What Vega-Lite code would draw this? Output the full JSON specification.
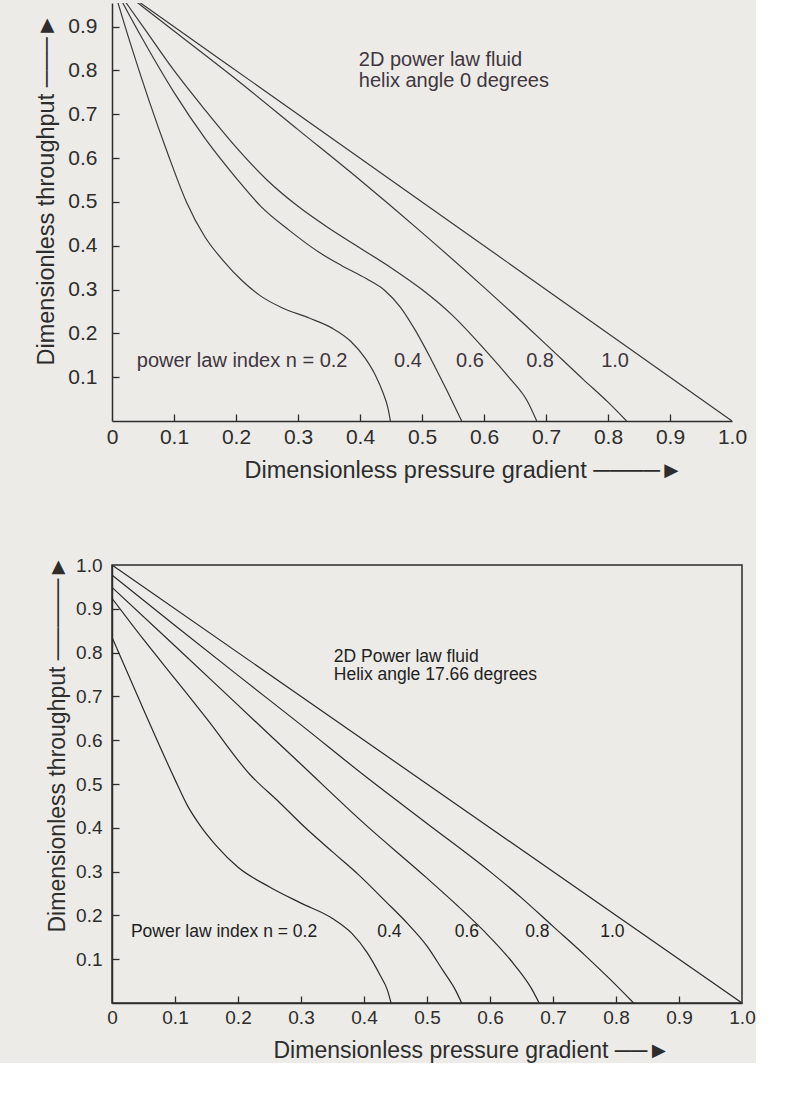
{
  "$schema": "https://vega.github.io/schema/vega-lite/v6.json",
  "background": "#ecebe7",
  "padding": {"left": 33, "top": 0, "right": 0, "bottom": 0},
  "spacing": 72,
  "config": {
    "view": {"stroke": null},
    "axis": {"grid": false, "domainColor": "#2d2d2d", "domainWidth": 1.5, "tickColor": "#2d2d2d", "tickWidth": 1.3, "labelColor": "#2d2d2d", "titleColor": "#2d2d2d", "labelFont": "Liberation Sans", "titleFont": "Liberation Sans", "titleFontWeight": "normal", "labelFlush": false, "labelOverlap": false}
  },
  "datasets": {
    "top": [
      {"n": "1.0", "x": 0, "y": 1}, {"n": "1.0", "x": 0.5, "y": 0.5}, {"n": "1.0", "x": 1, "y": 0},
      {"n": "0.8", "x": 0, "y": 1}, {"n": "0.8", "x": 0.1, "y": 0.89}, {"n": "0.8", "x": 0.2, "y": 0.78}, {"n": "0.8", "x": 0.3, "y": 0.665}, {"n": "0.8", "x": 0.4, "y": 0.55}, {"n": "0.8", "x": 0.5, "y": 0.43}, {"n": "0.8", "x": 0.6, "y": 0.305}, {"n": "0.8", "x": 0.7, "y": 0.175}, {"n": "0.8", "x": 0.76, "y": 0.095}, {"n": "0.8", "x": 0.8, "y": 0.043}, {"n": "0.8", "x": 0.83, "y": 0},
      {"n": "0.6", "x": 0, "y": 1}, {"n": "0.6", "x": 0.05, "y": 0.9}, {"n": "0.6", "x": 0.1, "y": 0.8}, {"n": "0.6", "x": 0.15, "y": 0.71}, {"n": "0.6", "x": 0.2, "y": 0.625}, {"n": "0.6", "x": 0.25, "y": 0.55}, {"n": "0.6", "x": 0.3, "y": 0.49}, {"n": "0.6", "x": 0.35, "y": 0.44}, {"n": "0.6", "x": 0.4, "y": 0.395}, {"n": "0.6", "x": 0.45, "y": 0.35}, {"n": "0.6", "x": 0.5, "y": 0.3}, {"n": "0.6", "x": 0.55, "y": 0.24}, {"n": "0.6", "x": 0.6, "y": 0.165}, {"n": "0.6", "x": 0.64, "y": 0.1}, {"n": "0.6", "x": 0.67, "y": 0.045}, {"n": "0.6", "x": 0.685, "y": 0},
      {"n": "0.4", "x": 0, "y": 1}, {"n": "0.4", "x": 0.05, "y": 0.87}, {"n": "0.4", "x": 0.1, "y": 0.75}, {"n": "0.4", "x": 0.15, "y": 0.645}, {"n": "0.4", "x": 0.2, "y": 0.555}, {"n": "0.4", "x": 0.24, "y": 0.49}, {"n": "0.4", "x": 0.286, "y": 0.435}, {"n": "0.4", "x": 0.334, "y": 0.385}, {"n": "0.4", "x": 0.37, "y": 0.355}, {"n": "0.4", "x": 0.41, "y": 0.325}, {"n": "0.4", "x": 0.44, "y": 0.298}, {"n": "0.4", "x": 0.465, "y": 0.26}, {"n": "0.4", "x": 0.49, "y": 0.205}, {"n": "0.4", "x": 0.515, "y": 0.14}, {"n": "0.4", "x": 0.54, "y": 0.07}, {"n": "0.4", "x": 0.564, "y": 0},
      {"n": "0.2", "x": 0, "y": 1}, {"n": "0.2", "x": 0.03, "y": 0.86}, {"n": "0.2", "x": 0.06, "y": 0.73}, {"n": "0.2", "x": 0.09, "y": 0.61}, {"n": "0.2", "x": 0.12, "y": 0.5}, {"n": "0.2", "x": 0.15, "y": 0.42}, {"n": "0.2", "x": 0.18, "y": 0.365}, {"n": "0.2", "x": 0.21, "y": 0.32}, {"n": "0.2", "x": 0.24, "y": 0.285}, {"n": "0.2", "x": 0.275, "y": 0.258}, {"n": "0.2", "x": 0.318, "y": 0.235}, {"n": "0.2", "x": 0.355, "y": 0.212}, {"n": "0.2", "x": 0.385, "y": 0.182}, {"n": "0.2", "x": 0.408, "y": 0.144}, {"n": "0.2", "x": 0.425, "y": 0.104}, {"n": "0.2", "x": 0.437, "y": 0.065}, {"n": "0.2", "x": 0.445, "y": 0.03}, {"n": "0.2", "x": 0.449, "y": 0}
    ],
    "bottom": [
      {"n": "1.0", "x": 0, "y": 1}, {"n": "1.0", "x": 0.5, "y": 0.5}, {"n": "1.0", "x": 1, "y": 0},
      {"n": "0.8", "x": 0, "y": 0.977}, {"n": "0.8", "x": 0.1, "y": 0.862}, {"n": "0.8", "x": 0.2, "y": 0.748}, {"n": "0.8", "x": 0.3, "y": 0.635}, {"n": "0.8", "x": 0.4, "y": 0.52}, {"n": "0.8", "x": 0.5, "y": 0.41}, {"n": "0.8", "x": 0.6, "y": 0.3}, {"n": "0.8", "x": 0.65, "y": 0.24}, {"n": "0.8", "x": 0.7, "y": 0.175}, {"n": "0.8", "x": 0.75, "y": 0.11}, {"n": "0.8", "x": 0.79, "y": 0.055}, {"n": "0.8", "x": 0.828, "y": 0},
      {"n": "0.6", "x": 0, "y": 0.949}, {"n": "0.6", "x": 0.1, "y": 0.815}, {"n": "0.6", "x": 0.2, "y": 0.68}, {"n": "0.6", "x": 0.3, "y": 0.545}, {"n": "0.6", "x": 0.4, "y": 0.41}, {"n": "0.6", "x": 0.5, "y": 0.285}, {"n": "0.6", "x": 0.55, "y": 0.22}, {"n": "0.6", "x": 0.6, "y": 0.15}, {"n": "0.6", "x": 0.64, "y": 0.085}, {"n": "0.6", "x": 0.665, "y": 0.035}, {"n": "0.6", "x": 0.678, "y": 0},
      {"n": "0.4", "x": 0, "y": 0.924}, {"n": "0.4", "x": 0.05, "y": 0.83}, {"n": "0.4", "x": 0.1, "y": 0.74}, {"n": "0.4", "x": 0.15, "y": 0.65}, {"n": "0.4", "x": 0.22, "y": 0.52}, {"n": "0.4", "x": 0.265, "y": 0.459}, {"n": "0.4", "x": 0.307, "y": 0.4}, {"n": "0.4", "x": 0.35, "y": 0.345}, {"n": "0.4", "x": 0.392, "y": 0.292}, {"n": "0.4", "x": 0.435, "y": 0.231}, {"n": "0.4", "x": 0.47, "y": 0.18}, {"n": "0.4", "x": 0.5, "y": 0.13}, {"n": "0.4", "x": 0.525, "y": 0.075}, {"n": "0.4", "x": 0.545, "y": 0.03}, {"n": "0.4", "x": 0.555, "y": 0},
      {"n": "0.2", "x": 0, "y": 0.835}, {"n": "0.2", "x": 0.05, "y": 0.67}, {"n": "0.2", "x": 0.1, "y": 0.51}, {"n": "0.2", "x": 0.12, "y": 0.45}, {"n": "0.2", "x": 0.14, "y": 0.405}, {"n": "0.2", "x": 0.165, "y": 0.36}, {"n": "0.2", "x": 0.2, "y": 0.31}, {"n": "0.2", "x": 0.25, "y": 0.265}, {"n": "0.2", "x": 0.3, "y": 0.228}, {"n": "0.2", "x": 0.35, "y": 0.193}, {"n": "0.2", "x": 0.38, "y": 0.16}, {"n": "0.2", "x": 0.405, "y": 0.115}, {"n": "0.2", "x": 0.425, "y": 0.065}, {"n": "0.2", "x": 0.437, "y": 0.03}, {"n": "0.2", "x": 0.443, "y": 0}
    ],
    "topText": [
      {"x": 0.398, "y": 0.81, "label": "2D power law fluid"},
      {"x": 0.398, "y": 0.763, "label": "helix angle 0 degrees"},
      {"x": 0.04, "y": 0.123, "label": "power law index n = 0.2"},
      {"x": 0.455, "y": 0.123, "label": "0.4"},
      {"x": 0.555, "y": 0.123, "label": "0.6"},
      {"x": 0.668, "y": 0.123, "label": "0.8"},
      {"x": 0.789, "y": 0.123, "label": "1.0"}
    ],
    "bottomText": [
      {"x": 0.352, "y": 0.778, "label": "2D Power law fluid"},
      {"x": 0.352, "y": 0.737, "label": "Helix angle 17.66 degrees"},
      {"x": 0.03, "y": 0.15, "label": "Power law index n = 0.2"},
      {"x": 0.421, "y": 0.15, "label": "0.4"},
      {"x": 0.544, "y": 0.15, "label": "0.6"},
      {"x": 0.656, "y": 0.15, "label": "0.8"},
      {"x": 0.775, "y": 0.15, "label": "1.0"}
    ]
  },
  "vconcat": [
    {
      "width": 620,
      "height": 418,
      "view": {"stroke": null},
      "resolve": {"axis": {"x": "independent", "y": "independent"}},
      "layer": [
        {
          "data": {"name": "top"},
          "mark": {"type": "line", "clip": true, "color": "#3a3a3a", "strokeWidth": 1.2, "interpolate": "monotone"},
          "encoding": {
            "x": {"field": "x", "type": "quantitative", "scale": {"domain": [0, 1], "nice": false},
              "axis": {"orient": "bottom", "values": [0, 0.1, 0.2, 0.3, 0.4, 0.5, 0.6, 0.7, 0.8, 0.9, 1], "labelExpr": "datum.value == 0 ? '0' : format(datum.value, '.1f')", "ticks": false, "labelPadding": 5, "labelFontSize": 21, "title": "Dimensionless pressure gradient   ────►", "titleFontSize": 23.5, "titleX": 132, "titleY": 49, "titleAlign": "left", "titleBaseline": "middle"}},
            "y": {"field": "y", "type": "quantitative", "scale": {"domain": [0, 0.954], "nice": false},
              "axis": {"orient": "left", "values": [0.1, 0.2, 0.3, 0.4, 0.5, 0.6, 0.7, 0.8, 0.9], "labelExpr": "format(datum.value, '.1f')", "ticks": false, "labelPadding": 15, "labelFontSize": 21, "title": "Dimensionless throughput   ───►", "titleFontSize": 23.5, "titleAngle": 270, "titleX": -66, "titleY": 362, "titleAlign": "left", "titleBaseline": "middle"}},
            "detail": {"field": "n"}
          }
        },
        {
          "data": {"name": "topText"},
          "mark": {"type": "text", "align": "left", "baseline": "alphabetic", "font": "Liberation Sans", "fontSize": 20, "color": "#3f3640"},
          "encoding": {
            "x": {"field": "x", "type": "quantitative",
              "axis": {"orient": "bottom", "values": [0.1, 0.2, 0.3, 0.4, 0.5, 0.6, 0.7, 0.8, 0.9], "offset": -7, "tickSize": 7, "labels": false, "domain": false, "title": null}},
            "y": {"field": "y", "type": "quantitative",
              "axis": {"orient": "left", "values": [0.1, 0.2, 0.3, 0.4, 0.5, 0.6, 0.7, 0.8, 0.9], "offset": -7, "tickSize": 7, "labels": false, "domain": false, "title": null}},
            "text": {"field": "label"}
          }
        },
        {
          "mark": {"type": "rule", "color": "#2d2d2d", "strokeWidth": 1.5},
          "encoding": {"x": {"datum": 1, "axis": null}}
        }
      ]
    },
    {
      "width": 630,
      "height": 438,
      "view": {"stroke": "#2d2d2d", "strokeWidth": 1.5},
      "resolve": {"axis": {"x": "independent", "y": "independent"}},
      "layer": [
        {
          "data": {"name": "bottom"},
          "mark": {"type": "line", "clip": true, "color": "#2a2a2a", "strokeWidth": 1.2, "interpolate": "monotone"},
          "encoding": {
            "x": {"field": "x", "type": "quantitative", "scale": {"domain": [0, 1], "nice": false},
              "axis": {"orient": "bottom", "values": [0, 0.1, 0.2, 0.3, 0.4, 0.5, 0.6, 0.7, 0.8, 0.9, 1], "labelExpr": "datum.value == 0 ? '0' : format(datum.value, '.1f')", "ticks": false, "labelPadding": 5, "labelFontSize": 19, "title": "Dimensionless pressure gradient ──►", "titleFontSize": 23, "titleX": 161, "titleY": 47, "titleAlign": "left", "titleBaseline": "middle"}},
            "y": {"field": "y", "type": "quantitative", "scale": {"domain": [0, 1], "nice": false},
              "axis": {"orient": "left", "values": [0.1, 0.2, 0.3, 0.4, 0.5, 0.6, 0.7, 0.8, 0.9, 1], "labelExpr": "format(datum.value, '.1f')", "ticks": false, "labelPadding": 10, "labelFontSize": 19, "title": "Dimensionless throughput ─────►", "titleFontSize": 23, "titleAngle": 270, "titleX": -55, "titleY": 367, "titleAlign": "left", "titleBaseline": "middle"}},
            "detail": {"field": "n"}
          }
        },
        {
          "data": {"name": "bottomText"},
          "mark": {"type": "text", "align": "left", "baseline": "alphabetic", "font": "Liberation Sans", "fontSize": 17.5, "color": "#222222"},
          "encoding": {
            "x": {"field": "x", "type": "quantitative",
              "axis": {"orient": "bottom", "values": [0.1, 0.2, 0.3, 0.4, 0.5, 0.6, 0.7, 0.8, 0.9], "offset": -7, "tickSize": 7, "labels": false, "domain": false, "title": null}},
            "y": {"field": "y", "type": "quantitative",
              "axis": {"orient": "left", "values": [0.1, 0.2, 0.3, 0.4, 0.5, 0.6, 0.7, 0.8, 0.9], "offset": -7, "tickSize": 7, "labels": false, "domain": false, "title": null}},
            "text": {"field": "label"}
          }
        }
      ]
    }
  ]
}
